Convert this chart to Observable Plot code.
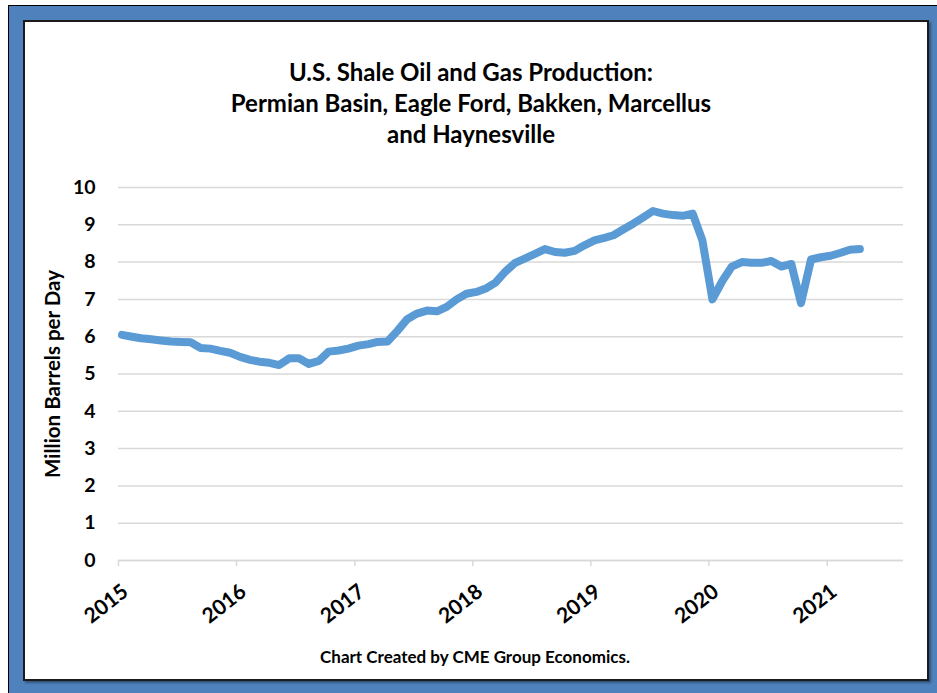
<!DOCTYPE html>
<html>
<head>
<meta charset="utf-8">
<script src="https://cdn.jsdelivr.net/npm/d3@7"></script>
<script src="https://cdn.jsdelivr.net/npm/@observablehq/plot@0.6"></script>
<style>
  html, body { margin: 0; padding: 0; background: #fff; }
  body { width: 937px; height: 693px; position: relative; overflow: hidden; font-family: Lato, "Open Sans", sans-serif; }
  #outer { position: absolute; left: 8px; top: 5px; width: 940px; height: 700px; background: #4f81bd; border-left: 1.5px solid #000; border-top: 1.5px solid #000; }
  #inner { position: absolute; left: 23px; top: 20px; width: 906px; height: 661px; background: #fff; border: 2px solid #1b1b1b; box-sizing: border-box; box-shadow: 2px 2px 2px rgba(0,0,0,0.35); }
  #title { position: absolute; left: 0; width: 942px; top: 56px; text-align: center; font-weight: bold; font-size: 24px; line-height: 31px; color: #000; }
  #caption { position: absolute; left: 0; width: 950px; top: 646px; text-align: center; font-weight: bold; font-size: 17px; color: #000; }
  #chart { position: absolute; left: 0; top: 0; }
</style>
</head>
<body>
<div id="outer"></div>
<div id="inner"></div>
<div id="title">U.S. Shale Oil and Gas Production:<br>Permian Basin, Eagle Ford, Bakken, Marcellus<br>and Haynesville</div>
<div id="chart"></div>
<div id="caption">Chart Created by CME Group Economics.</div>
<script>
// Monthly production, million barrels per day (oil-equivalent), Jan 2015 – Apr 2021
const startYear = 2015;
const values = [
  6.05, 6.00, 5.96, 5.93, 5.90, 5.87, 5.86, 5.85, 5.70, 5.68, 5.62, 5.57,
  5.46, 5.38, 5.33, 5.30, 5.24, 5.42, 5.42, 5.27, 5.35, 5.60, 5.63, 5.68,
  5.76, 5.80, 5.86, 5.87, 6.15, 6.47, 6.62, 6.70, 6.68, 6.80, 7.00, 7.15,
  7.20, 7.30, 7.45, 7.75, 7.98, 8.10, 8.22, 8.35, 8.27, 8.25, 8.30, 8.45,
  8.58, 8.65, 8.72, 8.88, 9.03, 9.20, 9.37, 9.30, 9.26, 9.24, 9.30, 8.58,
  7.00, 7.50, 7.88, 8.00, 7.98, 7.98, 8.03, 7.88, 7.95, 6.90, 8.07, 8.13,
  8.17, 8.25, 8.33, 8.35
];
const yearTicks = [2015, 2016, 2017, 2018, 2019, 2020, 2021];
const yTicks = [0, 1, 2, 3, 4, 5, 6, 7, 8, 9, 10];
const yLabel = "Million Barrels per Day";

const data = values.map((v, i) => ({
  date: new Date(Date.UTC(startYear, i, 12)),
  value: v
}));
const tickDates = yearTicks.map(y => new Date(Date.UTC(y, 0, 1)));

const chart = Plot.plot({
  width: 937,
  height: 693,
  marginLeft: 118,
  marginRight: 34,
  marginTop: 187,
  marginBottom: 133,
  style: { fontFamily: "Lato, 'Open Sans', sans-serif", background: "transparent", overflow: "visible", color: "#000" },
  x: { type: "utc", domain: [new Date(Date.UTC(2015, 0, 1)), new Date(Date.UTC(2021, 7, 25))] },
  y: { domain: [0, 10] },
  marks: [
    Plot.gridY(yTicks, { stroke: "#d9d9d9", strokeOpacity: 1, strokeWidth: 1.5 }),
    Plot.ruleY([0], { stroke: "#d9d9d9", strokeWidth: 1.5 }),
    Plot.axisY(yTicks, { tickSize: 0, tickPadding: 23, fontSize: 19.5, fontWeight: "bold", fill: "#000", label: null, tickFormat: d => String(d) }),
    Plot.axisX(tickDates, { tickSize: 6, stroke: "#d9d9d9", strokeWidth: 1.5, text: null, label: null }),
    Plot.text(tickDates, { x: d => d, y: 0, text: d => d3.utcFormat("%Y")(d), rotate: -38, textAnchor: "end", lineAnchor: "top", dx: 2, dy: 22, fontSize: 21, fontWeight: "bold", fill: "#000" }),
    Plot.line(data, { x: "date", y: "value", stroke: "#5b9bd5", strokeWidth: 8, strokeLinejoin: "round", strokeLinecap: "round" }),
    Plot.text([yLabel], { frameAnchor: "left", textAnchor: "middle", dx: -65, rotate: -90, fontSize: 20.5, fontWeight: "bold", fill: "#000" })
  ]
});
document.getElementById("chart").appendChild(chart);
</script>
</body>
</html>
